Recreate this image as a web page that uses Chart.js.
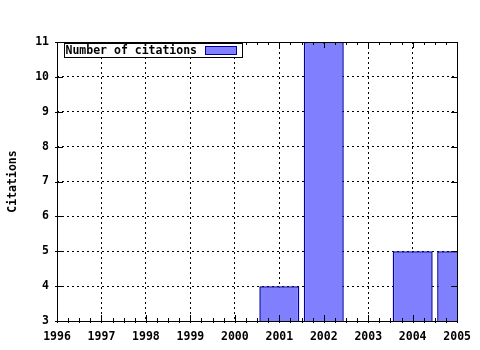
<!DOCTYPE html>
<html lang="en">
<head>
    <meta charset="UTF-8">
    <title>Citations</title>
    <script src="https://cdn.jsdelivr.net/npm/chart.js"></script>
    <style>
        body { margin: 0; background: #fff; }
        #wrap { width: 480px; height: 350px; }
    </style>
</head>
<body>
    <div id="wrap"><canvas id="grafico" width="480" height="350"></canvas></div>

    <script>
        // datos del grafico
        const years = [2001, 2002, 2004, 2005];
        const citations = [4, 11, 5, 5];
        const yearTicks = [1996, 1997, 1998, 1999, 2000, 2001, 2002, 2003, 2004, 2005];
        const citationTicks = [3, 4, 5, 6, 7, 8, 9, 10, 11];
        const seriesLabel = 'Number of citations';

        const monoFont = { family: "'DejaVu Sans Mono', 'Liberation Mono', monospace", size: 11.5, weight: 'bold' };

        // marco, marcas de los ejes y leyenda estilo gnuplot
        const gnuplotFrame = {
            id: 'gnuplotFrame',
            afterDatasetsDraw(chart) {
                const ctx = chart.ctx;
                const a = chart.chartArea;
                const xs = chart.scales.x;
                const ys = chart.scales.y;
                ctx.save();
                ctx.strokeStyle = '#000';
                ctx.lineWidth = 1;
                ctx.setLineDash([]);
                ctx.beginPath();
                // marcas en x (principales y secundarias)
                for (let i = 0; i < yearTicks.length; i++) {
                    const px = Math.round(xs.getPixelForValue(yearTicks[i])) + 0.5;
                    ctx.moveTo(px, a.bottom + 2); ctx.lineTo(px, a.bottom - 6);
                    ctx.moveTo(px, a.top); ctx.lineTo(px, a.top + 6);
                    if (i < yearTicks.length - 1) {
                        for (let q = 1; q < 4; q++) {
                            const mx = Math.round(xs.getPixelForValue(yearTicks[i] + q / 4)) + 0.5;
                            ctx.moveTo(mx, a.bottom + 2); ctx.lineTo(mx, a.bottom - 3);
                            ctx.moveTo(mx, a.top); ctx.lineTo(mx, a.top + 3);
                        }
                    }
                }
                // marcas en y
                citationTicks.forEach(v => {
                    const py = Math.round(ys.getPixelForValue(v)) + 0.5;
                    ctx.moveTo(a.left - 2, py); ctx.lineTo(a.left + 6, py);
                    ctx.moveTo(a.right, py); ctx.lineTo(a.right - 6, py);
                });
                ctx.stroke();
                ctx.strokeRect(Math.round(a.left) + 0.5, Math.round(a.top) + 0.5,
                    Math.round(a.right - a.left), Math.round(a.bottom - a.top));

                // leyenda
                const lx = Math.round(a.left) + 7.5, ly = Math.round(a.top) + 1.5;
                ctx.font = 'bold 11.5px ' + monoFont.family;
                const boxW = 178, boxH = 14;
                ctx.fillStyle = '#fff';
                ctx.fillRect(lx, ly, boxW, boxH);
                ctx.strokeRect(lx, ly, boxW, boxH);
                ctx.fillStyle = '#000';
                ctx.textBaseline = 'middle';
                ctx.fillText(seriesLabel, lx + 1, ly + boxH / 2 + 1);
                const ds = chart.data.datasets[0];
                ctx.fillStyle = ds.backgroundColor;
                ctx.fillRect(lx + 141, ly + 3, 31, 8);
                ctx.strokeStyle = ds.borderColor;
                ctx.strokeRect(lx + 141, ly + 3, 31, 8);
                ctx.restore();
            }
        };

        const ctx = document.getElementById('grafico').getContext('2d');
        const myChart = new Chart(ctx, {
            type: 'bar',
            data: {
                datasets: [{
                    label: seriesLabel,
                    data: years.map((y, i) => ({ x: y, y: citations[i] })),
                    backgroundColor: '#8080ff',
                    borderColor: '#0000a0',
                    borderWidth: 1.5,
                    borderSkipped: false,
                    inflateAmount: 0,
                    barPercentage: 0.9,
                    categoryPercentage: 1
                }]
            },
            options: {
                responsive: false,
                animation: false,
                layout: { padding: { left: 0, top: 42, right: 21, bottom: 0 } },
                plugins: {
                    legend: { display: false },
                    tooltip: { enabled: false }
                },
                scales: {
                    x: {
                        type: 'linear',
                        min: 1996,
                        max: 2005,
                        offset: false,
                        afterFit(s) { s.height = 29; },
                        afterBuildTicks(s) { s.ticks = yearTicks.map(v => ({ value: v })); },
                        ticks: {
                            color: '#000',
                            font: monoFont,
                            padding: 9,
                            maxRotation: 0,
                            autoSkip: false,
                            callback: v => String(v)
                        },
                        grid: { color: '#000', drawTicks: false, lineWidth: 1, offset: false },
                        border: { display: false, dash: [2, 3] }
                    },
                    y: {
                        min: 3,
                        max: 11,
                        afterFit(s) { s.width = 57; },
                        afterBuildTicks(s) { s.ticks = citationTicks.map(v => ({ value: v })); },
                        ticks: {
                            color: '#000',
                            font: monoFont,
                            padding: 8,
                            callback: v => String(v)
                        },
                        title: {
                            display: true,
                            text: 'Citations',
                            color: '#000',
                            font: monoFont,
                            padding: { top: 6, bottom: 0 }
                        },
                        grid: { color: '#000', drawTicks: false, lineWidth: 1 },
                        border: { display: false, dash: [2, 3] }
                    }
                }
            },
            plugins: [gnuplotFrame]
        });
    </script>
</body>
</html>
